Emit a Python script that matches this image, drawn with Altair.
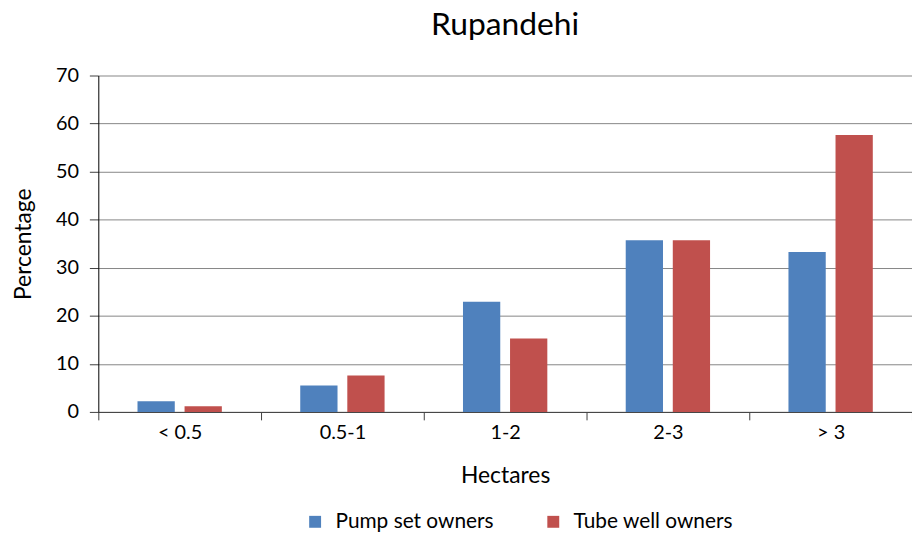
import altair as alt
import pandas as pd

categories = ["< 0.5", "0.5-1", "1-2", "2-3", "> 3"]
series = ["Pump set owners", "Tube well owners"]
pump = [2.2, 5.5, 22.9, 35.7, 33.3]
tube = [1.2, 7.6, 15.3, 35.7, 57.6]
colors = ["#4F81BD", "#C0504D"]
y_ticks = [0, 10, 20, 30, 40, 50, 60, 70]

rows = []
for c, p, t in zip(categories, pump, tube):
    rows.append({"Hectares": c, "Series": series[0], "Percentage": p})
    rows.append({"Hectares": c, "Series": series[1], "Percentage": t})
df = pd.DataFrame(rows)

FONT = "Lato"

chart = alt.Chart(df).mark_bar().encode(
    x=alt.X("Hectares:N", sort=categories,
            scale=alt.Scale(paddingInner=0, paddingOuter=0),
            axis=alt.Axis(title="Hectares", labelAngle=0, tickBand="extent",
                          tickSize=8, tickColor="#404040", domainColor="#404040",
                          labelPadding=3, titlePadding=22)),
    xOffset=alt.XOffset("Series:N", sort=series,
                        scale=alt.Scale(paddingInner=0.208, paddingOuter=0.833)),
    y=alt.Y("Percentage:Q", scale=alt.Scale(domain=[0, 70]),
            axis=alt.Axis(title="Percentage", values=y_ticks, grid=True,
                          gridColor="#868686", tickSize=9, tickColor="#404040",
                          domainColor="#000000", labelPadding=11, titlePadding=20)),
    color=alt.Color("Series:N", sort=series,
                    scale=alt.Scale(domain=series, range=colors),
                    legend=alt.Legend(title=None, orient="none", direction="horizontal",
                                      legendX=208, legendY=439, symbolType="square",
                                      symbolSize=144, symbolStrokeWidth=0,
                                      labelOffset=10, columnPadding=49, labelLimit=400,
                                      labelFont=FONT, labelFontSize=21,
                                      labelColor="#000000")),
).properties(
    width=820,
    height=339,
    title=alt.TitleParams("Rupandehi", font=FONT, fontSize=32, fontWeight="normal",
                          color="#000000", anchor="middle", offset=24),
    autosize=alt.AutoSizeParams(type="none"),
    padding={"left": 91, "top": 66, "right": 0, "bottom": 122},
).configure_view(
    stroke=None
).configure_axis(
    labelFont=FONT, labelFontSize=20, labelColor="#000000",
    titleFont=FONT, titleFontSize=23, titleFontWeight="normal", titleColor="#000000",
    domainWidth=1, gridWidth=1,
)

chart.save("out.html", embed_options={"renderer": "svg", "actions": False})
